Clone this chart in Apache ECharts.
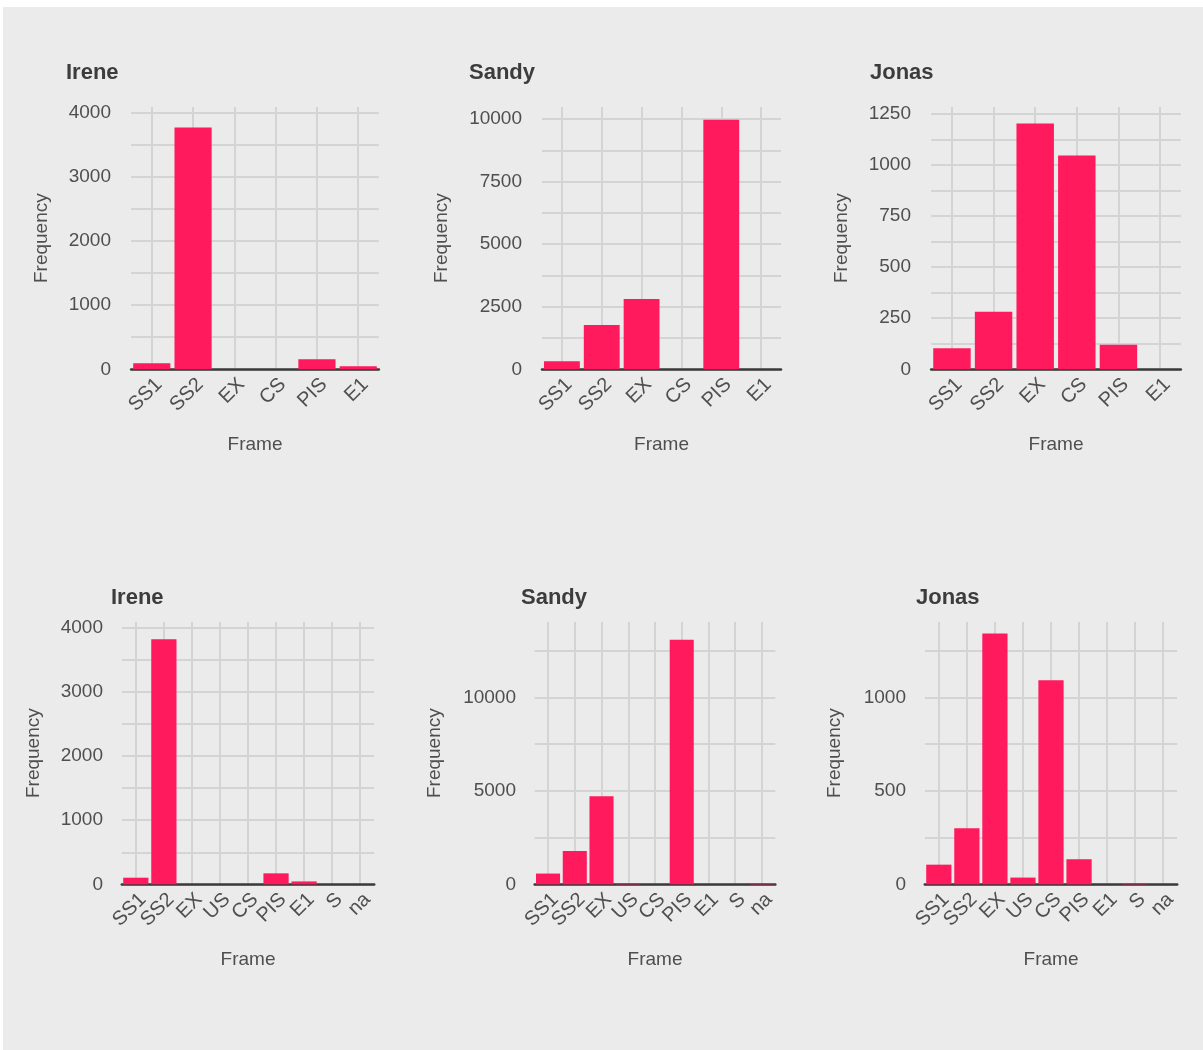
<!DOCTYPE html>
<html>
<head>
<meta charset="utf-8">
<script src="https://cdn.jsdelivr.net/npm/echarts@6/dist/echarts.min.js"></script>
<style>
html,body{margin:0;padding:0;background:#ffffff;}
#chart{width:1203px;height:1050px;}
</style>
</head>
<body>
<div id="chart"></div>
<script>
// ---- data ----
const categoriesTop = ['SS1', 'SS2', 'EX', 'CS', 'PIS', 'E1'];
const categoriesBottom = ['SS1', 'SS2', 'EX', 'US', 'CS', 'PIS', 'E1', 'S', 'na'];
const ireneTop = [95, 3770, 0, 0, 156, 48];
const sandyTop = [320, 1770, 2810, 0, 9970, 0];
const jonasTop = [103, 282, 1203, 1047, 120, 0];
const ireneBottom = [103, 3824, 0, 0, 0, 171, 45, 0, 0];
const sandyBottom = [575, 1780, 4710, 50, 0, 13085, 0, 0, 40];
const jonasBottom = [105, 300, 1342, 36, 1091, 134, 0, 4, 0];
const panelTitles = ['Irene', 'Sandy', 'Jonas', 'Irene', 'Sandy', 'Jonas'];
const yMaxes = [4090, 10480, 1284, 4094, 14030, 1403];
const yLabelSteps = [1000, 2500, 250, 1000, 5000, 500];
const yGridSteps = [500, 1250, 125, 500, 2500, 250];
const xAxisTitle = 'Frame';
const yAxisTitle = 'Frequency';

const panelValues = [ireneTop, sandyTop, jonasTop, ireneBottom, sandyBottom, jonasBottom];
const panelCats = [categoriesTop, categoriesTop, categoriesTop, categoriesBottom, categoriesBottom, categoriesBottom];

// ---- layout (pixels) ----
const layout = [
  {l: 127, r: 383, t: 107, b: 369.3, titleX: 66, titleY: 62, yNameX: 40},
  {l: 538, r: 785, t: 107, b: 369.3, titleX: 469, titleY: 62, yNameX: 440},
  {l: 927, r: 1185, t: 107, b: 369.3, titleX: 870, titleY: 62, yNameX: 840},
  {l: 119, r: 377, t: 622, b: 884.3, titleX: 111, titleY: 587, yNameX: 32},
  {l: 532, r: 778, t: 622, b: 884.3, titleX: 521, titleY: 587, yNameX: 433},
  {l: 922, r: 1180, t: 622, b: 884.3, titleX: 916, titleY: 587, yNameX: 833}
];

const FONT = "'Liberation Sans', Arial, Helvetica, sans-serif";
const labelColor = '#4f4f4f';
const gridColor = '#d4d4d4';
const barColor = '#ff1a5e';

const grids = [], xAxes = [], yAxes = [], series = [], titles = [];
layout.forEach((p, i) => {
  const n = panelCats[i].length;
  const w = p.r - p.l;
  const u = w / (n + 0.2);
  const L = p.l + 0.1 * u;
  const W = n * u;
  grids.push({left: L, top: p.t, width: W, height: p.b - p.t, containLabel: false});
  titles.push({
    text: panelTitles[i], left: p.titleX, top: p.titleY, padding: 0,
    textStyle: {fontFamily: FONT, fontSize: 22, fontWeight: 'bold', color: '#3c3c3c'}
  });
  const labStep = yLabelSteps[i];
  xAxes.push({
    type: 'category', gridIndex: i, data: panelCats[i],
    axisLine: {show: true, lineStyle: {color: '#3a3a3a', width: 2.5}},
    axisTick: {show: false},
    splitLine: {show: true, interval: 0, alignWithLabel: true, lineStyle: {color: gridColor, width: 2}},
    axisLabel: {rotate: 45, interval: 0, margin: 5, verticalAlign: 'top', fontFamily: FONT, fontSize: 20, color: labelColor},
    name: xAxisTitle, nameLocation: 'middle', nameGap: 66,
    nameTextStyle: {fontFamily: FONT, fontSize: 19, color: labelColor}
  });
  yAxes.push({
    type: 'value', gridIndex: i, min: 0, max: yMaxes[i], interval: yGridSteps[i],
    axisLine: {show: false}, axisTick: {show: false},
    splitLine: {show: true, showMaxLine: false, showMinLine: true, lineStyle: {color: gridColor, width: 2}},
    axisLabel: {
      showMaxLabel: false, margin: (L - (p.l - 16)), fontFamily: FONT, fontSize: 19, color: labelColor,
      formatter: v => (Math.abs(v % labStep) < 1e-9 ? String(v) : '')
    },
    name: yAxisTitle, nameLocation: 'middle', nameRotate: 90, nameGap: L - p.yNameX - 11,
    nameTextStyle: {fontFamily: FONT, fontSize: 19, color: labelColor}
  });
  series.push({
    type: 'bar', xAxisIndex: i, yAxisIndex: i, data: panelValues[i],
    barWidth: '90%', itemStyle: {color: barColor}, silent: true
  });
});

const chart = echarts.init(document.getElementById('chart'), null, {renderer: 'canvas'});
chart.setOption({
  animation: false,
  backgroundColor: '#ffffff',
  graphic: [{type: 'rect', left: 3, top: 7, shape: {width: 1200, height: 1043}, style: {fill: '#ebebeb'}, z: -10, silent: true}],
  title: titles,
  grid: grids,
  xAxis: xAxes,
  yAxis: yAxes,
  series: series
});
</script>
</body>
</html>
